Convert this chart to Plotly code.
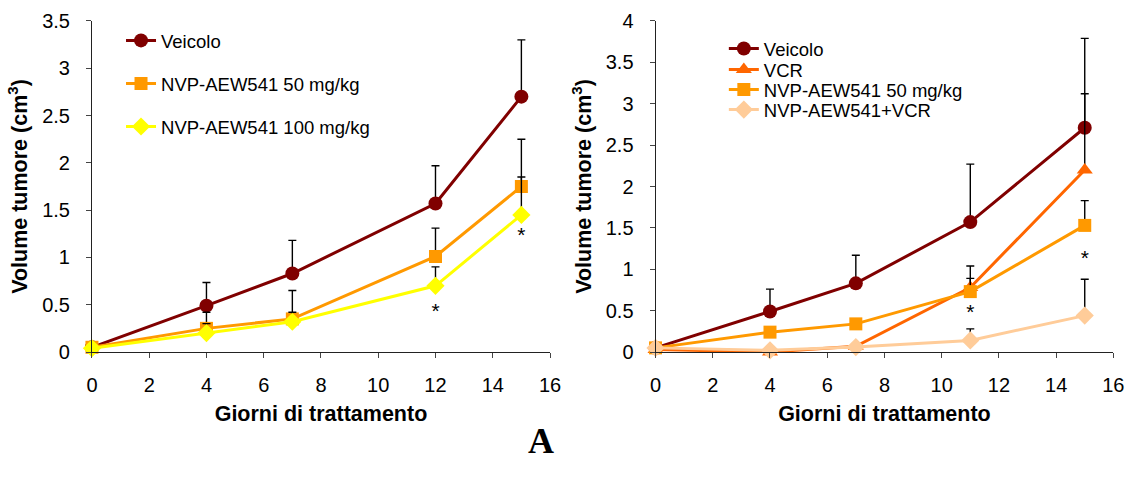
import plotly.graph_objects as go

# ---------------- data ----------------
# Left panel
days_left = [0, 4, 7, 12, 15]
veicolo_left = [0.05, 0.49, 0.83, 1.57, 2.70]
veicolo_left_err = [None, 0.735, 1.18, 1.97, 3.30]
nvp50_left = [0.05, 0.25, 0.35, 1.01, 1.75]
nvp50_left_err = [None, 0.42, 0.65, 1.31, 2.25]
nvp100_left = [0.04, 0.20, 0.32, 0.70, 1.45]
nvp100_left_err = [None, 0.30, 0.42, 0.90, 1.85]
star_left_x = [12, 15]
star_left_y = [0.41, 1.22]

# Right panel
days_right = [0, 4, 7, 11, 15]
veicolo_right = [0.05, 0.49, 0.83, 1.57, 2.71]
veicolo_right_err = [None, 0.76, 1.17, 2.27, 3.79]
vcr_right = [0.03, 0.0, 0.07, 0.78, 2.20]
vcr_right_err = [None, None, 0.10, 1.04, 3.12]
nvp50_right = [0.05, 0.24, 0.34, 0.73, 1.53]
nvp50_right_err = [None, None, None, 0.89, 1.83]
combo_right = [0.05, 0.02, 0.06, 0.14, 0.44]
combo_right_err = [None, None, None, 0.28, 0.88]
star_right_x = [11, 15]
star_right_y = [0.46, 1.12]

x_ticks = [0, 2, 4, 6, 8, 10, 12, 14, 16]

# ---------------- styling ----------------
FONT = "Liberation Sans, Arial, sans-serif"
C_VEIC = "#800000"
C_NVP50 = "#FF9900"
C_NVP100 = "#FFFF00"
C_VCR = "#FF6600"
C_COMBO = "#FFCC99"
LEG_FONT = dict(family=FONT, size=18.5, color="black")


def err(values, upper):
    plus = [(u - v) if u is not None else 0 for v, u in zip(values, upper)]
    return dict(type="data", symmetric=False, array=plus,
                arrayminus=[0] * len(values), color="black",
                thickness=1.4, width=4)


def add_series(fig, x, y, upper, name, color, symbol, size, xa, ya, legend, group):
    fig.add_trace(go.Scatter(
        x=x, y=y, name=name, mode="lines+markers",
        line=dict(color=color, width=3),
        marker=dict(color=color, symbol=symbol, size=size),
        error_y=err(y, upper), cliponaxis=False,
        xaxis=xa, yaxis=ya, legend=legend, legendgroup=group,
    ))


fig = go.Figure()

add_series(fig, days_left, veicolo_left, veicolo_left_err, "Veicolo", C_VEIC,
           "circle", 14, "x", "y", "legend", "a")
add_series(fig, days_left, nvp50_left, nvp50_left_err, "NVP-AEW541 50 mg/kg", C_NVP50,
           "square", 13, "x", "y", "legend", "b")
add_series(fig, days_left, nvp100_left, nvp100_left_err, "NVP-AEW541 100 mg/kg", C_NVP100,
           "diamond", 14, "x", "y", "legend", "c")

add_series(fig, days_right, veicolo_right, veicolo_right_err, "Veicolo", C_VEIC,
           "circle", 14, "x2", "y2", "legend2", None)
add_series(fig, days_right, vcr_right, vcr_right_err, "VCR", C_VCR,
           "triangle-up", 14, "x2", "y2", "legend3", None)
add_series(fig, days_right, nvp50_right, nvp50_right_err, "NVP-AEW541 50 mg/kg", C_NVP50,
           "square", 13, "x2", "y2", "legend4", None)
add_series(fig, days_right, combo_right, combo_right_err, "NVP-AEW541+VCR", C_COMBO,
           "diamond", 14, "x2", "y2", "legend5", None)

# significance asterisks
for xs, ys, xa, ya in [(star_left_x, star_left_y, "x", "y"),
                       (star_right_x, star_right_y, "x2", "y2")]:
    fig.add_trace(go.Scatter(
        x=xs, y=ys, mode="text", text=["*"] * len(xs),
        textfont=dict(family=FONT, size=21, color="black"),
        showlegend=False, hoverinfo="skip", xaxis=xa, yaxis=ya, cliponaxis=False,
    ))

axis_common = dict(
    showline=True, linecolor="#222", linewidth=1, showgrid=False, zeroline=False,
    ticks="outside", ticklen=5, tickcolor="#444", tickwidth=1, automargin=False,
    tickfont=dict(family=FONT, size=20, color="black"),
)
title_font = dict(family=FONT, size=21.5, color="black")

xl = dict(axis_common, range=[0, 16], tickvals=x_ticks, ticklabelstandoff=10,
          title=dict(text="<b>Giorni di trattamento</b>", font=title_font, standoff=10))
yl_title = dict(text="<b>Volume tumore (cm<sup>3</sup>)</b>", font=title_font, standoff=8)

right_leg_x = 0.640
right_rows = [49, 70, 90, 110]


def small_legend(row):
    return dict(x=right_leg_x, y=1 - row / 486, xanchor="left", yanchor="middle",
                bgcolor="rgba(0,0,0,0)", font=LEG_FONT)


fig.update_layout(
    width=1131, height=486,
    margin=dict(l=0, r=0, t=0, b=0, autoexpand=False),
    paper_bgcolor="white", plot_bgcolor="white",
    font=dict(family=FONT, color="black"),
    xaxis=dict(xl, domain=[0.0813, 0.4863], anchor="y"),
    yaxis=dict(axis_common, domain=[0.2757, 0.9568], range=[0, 3.5], dtick=0.5,
               anchor="x", ticklabelstandoff=12, title=yl_title),
    xaxis2=dict(xl, domain=[0.5796, 0.9844], anchor="y2"),
    yaxis2=dict(axis_common, domain=[0.2757, 0.9568], range=[0, 4], dtick=0.5,
                anchor="x2", ticklabelstandoff=12, title=yl_title),
    legend=dict(x=0.107, y=0.955, xanchor="left", yanchor="top",
                bgcolor="rgba(0,0,0,0)", tracegroupgap=16, font=LEG_FONT),
    legend2=small_legend(right_rows[0]),
    legend3=small_legend(right_rows[1]),
    legend4=small_legend(right_rows[2]),
    legend5=small_legend(right_rows[3]),
    annotations=[dict(text="<b>A</b>", x=0.478, y=0.093, xref="paper", yref="paper",
                      showarrow=False, xanchor="center", yanchor="middle",
                      font=dict(family="Liberation Serif, Times New Roman, serif",
                                size=36, color="black"))],
    showlegend=True,
)

fig.write_html("out.html")
